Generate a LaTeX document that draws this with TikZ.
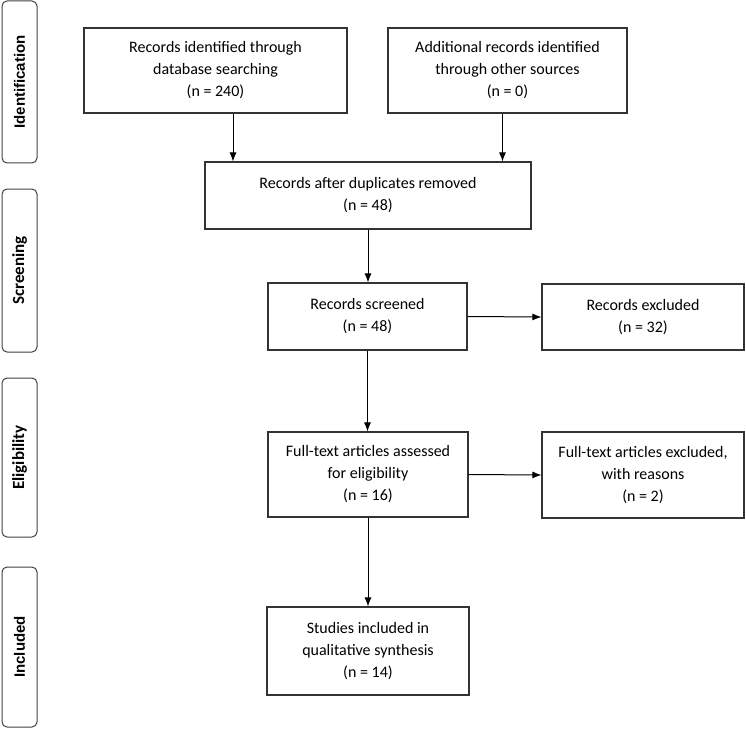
\documentclass[tikz,border=0pt]{standalone}
\usepackage{fontspec}
\setmainfont{Carlito}
\newfontfamily\arialfont{Liberation Sans}
\usetikzlibrary{arrows.meta,calc}
\tikzset{>={Latex[length=9pt,width=7pt]}}
\tikzset{stagebox/.style={draw=black!80,line width=1.1pt,align=center,inner sep=2pt,
    font=\fontsize{16}{22}\selectfont}}
\tikzset{phase/.style={draw=black!75,line width=1pt,rounded corners=5pt,minimum width=35pt,
    inner sep=0pt,rotate=90}}
\tikzset{flow/.style={->,line width=1pt}}

\begin{document}
\begin{tikzpicture}[x=1pt,y=-1pt]
  \useasboundingbox (0,0) rectangle (746,730);
  % Phases
  \node[phase,minimum width=162pt,minimum height=35pt,font=\arialfont\bfseries\fontsize{15}{18}\selectfont] (ident) at (19.5,82) {Identification};
  \node[phase,minimum width=163pt,minimum height=35pt,font=\bfseries\fontsize{17}{20}\selectfont] (screen) at (19.5,270.5) {Screening};
  \node[phase,minimum width=159pt,minimum height=35pt,font=\bfseries\fontsize{17}{20}\selectfont] (elig) at (19.5,457.5) {Eligibility};
  \node[phase,minimum width=160pt,minimum height=35pt,font=\arialfont\bfseries\fontsize{15}{18}\selectfont] (incl) at (19.5,647) {Included};
  % Boxes
  \node[stagebox,minimum width=263pt,minimum height=85pt] (dbrec) at (215.5,70.5) {Records identified through\\database searching\\(n = 240)};
  \node[stagebox,minimum width=239pt,minimum height=85pt] (othrec) at (507.5,70.5) {Additional records identified\\through other sources\\(n = 0)};
  \node[stagebox,minimum width=326pt,minimum height=67pt] (dedup) at (368,195.5) {Records after duplicates removed\\(n = 48)};
  \node[stagebox,minimum width=199pt,minimum height=67pt] (screened) at (367.5,316.5) {Records screened\\(n = 48)};
  \node[stagebox,minimum width=202pt,minimum height=66pt] (excl) at (643,317) {Records excluded\\(n = 32)};
  \node[stagebox,minimum width=200pt,minimum height=85pt] (fulltext) at (368,474.5) {Full-text articles assessed\\for eligibility\\(n = 16)};
  \node[stagebox,minimum width=202pt,minimum height=86pt] (ftexcl) at (643,475) {Full-text articles excluded,\\with reasons\\(n = 2)};
  \node[stagebox,minimum width=202pt,minimum height=88pt] (studies) at (368,651) {Studies included in\\qualitative synthesis\\(n = 14)};
  % Arrows
  \draw[flow] ([xshift=17.5pt]dbrec.south) -- ([xshift=17.5pt]dbrec.south |- dedup.north);
  \draw[flow] ([xshift=-5pt]othrec.south) -- ([xshift=-5pt]othrec.south |- dedup.north);
  \draw[flow] (dedup.south) -- (dedup.south |- screened.north);
  \draw[flow] (screened.east) -- (excl.west);
  \draw[flow] (screened.south) -- (screened.south |- fulltext.north);
  \draw[flow] (fulltext.east) -- (ftexcl.west);
  \draw[flow] (fulltext.south) -- (fulltext.south |- studies.north);
\end{tikzpicture}
\end{document}
